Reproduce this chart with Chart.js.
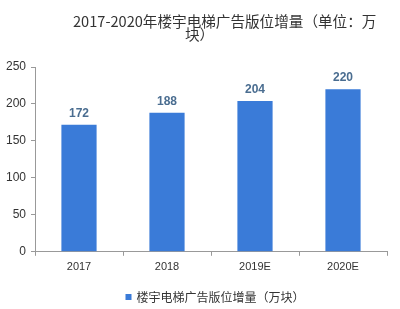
<!DOCTYPE html>
<html><head><meta charset="utf-8">
<script src="https://cdn.jsdelivr.net/npm/chart.js@4/dist/chart.umd.min.js"></script>
<style>html,body{margin:0;padding:0;background:#fff}#wrap{width:400px;height:309px}</style>
</head><body><div id="wrap"><canvas id="c" width="400" height="309"></canvas></div>
<script>
const categories = ['2017', '2018', '2019E', '2020E'];
const values = [172, 188, 204, 220];
const yTicks = [0, 50, 100, 150, 200, 250];
const seriesName = '楼宇电梯广告版位增量（万块）';
const titleLines = ['2017-2020年楼宇电梯广告版位增量（单位：万', '块）'];

const FONT = '"Liberation Sans", "Noto Sans CJK SC", sans-serif';
const BAR_COLOR = '#3a7bd8';

const labelPlugin = {
  id: 'barLabels',
  afterDatasetsDraw(chart) {
    const ctx = chart.ctx;
    const meta = chart.getDatasetMeta(0);
    ctx.save();
    ctx.font = 'bold 12px ' + FONT;
    ctx.fillStyle = '#4a6d90';
    ctx.textAlign = 'center';
    ctx.textBaseline = 'middle';
    meta.data.forEach((bar, i) => {
      ctx.fillText(String(values[i]), bar.x, bar.y - 11);
    });
    ctx.restore();
  }
};

const titlePlugin = {
  id: 'twoLineTitle',
  afterDraw(chart) {
    const ctx = chart.ctx;
    ctx.save();
    ctx.font = '14.6px "Noto Sans CJK SC", sans-serif';
    ctx.fillStyle = '#333';
    ctx.textBaseline = 'middle';
    ctx.textAlign = 'left';
    ctx.fillText(titleLines[0], 73, 21);
    ctx.fillText(titleLines[1], 185, 34);
    ctx.restore();
  }
};

const legendPlugin = {
  id: 'customLegend',
  afterDraw(chart) {
    const ctx = chart.ctx;
    const a = chart.chartArea;
    ctx.save();
    ctx.font = '12px "Noto Sans CJK SC", sans-serif';
    const tw = ctx.measureText(seriesName).width;
    const box = 6, gap = 5;
    const total = box + gap + tw;
    const cx = (a.left + a.right) / 2 + 4;
    const x0 = cx - total / 2;
    const y = 297;
    ctx.fillStyle = BAR_COLOR;
    ctx.fillRect(x0, y - box / 2, box, box);
    ctx.fillStyle = '#333';
    ctx.textBaseline = 'middle';
    ctx.textAlign = 'left';
    ctx.fillText(seriesName, x0 + box + gap, y);
    ctx.restore();
  }
};

new Chart(document.getElementById('c'), {
  type: 'bar',
  data: {
    labels: categories,
    datasets: [{
      label: seriesName,
      data: values,
      backgroundColor: BAR_COLOR,
      borderWidth: 0,
      categoryPercentage: 0.8,
      barPercentage: 0.5
    }]
  },
  options: {
    responsive: false,
    animation: false,
    devicePixelRatio: 1,
    layout: { padding: { left: 0, right: 13, top: 67, bottom: 30 } },
    plugins: {
      title: { display: false },
      tooltip: { enabled: false },
      legend: { display: false }
    },
    scales: {
      x: {
        grid: { offset: true, drawOnChartArea: false, drawTicks: true, tickLength: 4, color: '#999' },
        border: { color: '#999' },
        ticks: { color: '#333', font: { family: FONT, size: 11 }, padding: 5 }
      },
      y: {
        min: 0, max: 250,
        afterBuildTicks(scale) { scale.ticks = yTicks.map(v => ({ value: v })); },
        afterFit(scale) { scale.width = 35; },
        grid: { drawOnChartArea: false, drawTicks: true, tickLength: 4, color: '#999' },
        border: { color: '#999' },
        ticks: { color: '#333', font: { family: FONT, size: 12 }, padding: 5 }
      }
    }
  },
  plugins: [labelPlugin, titlePlugin, legendPlugin]
});
</script>
</body></html>
